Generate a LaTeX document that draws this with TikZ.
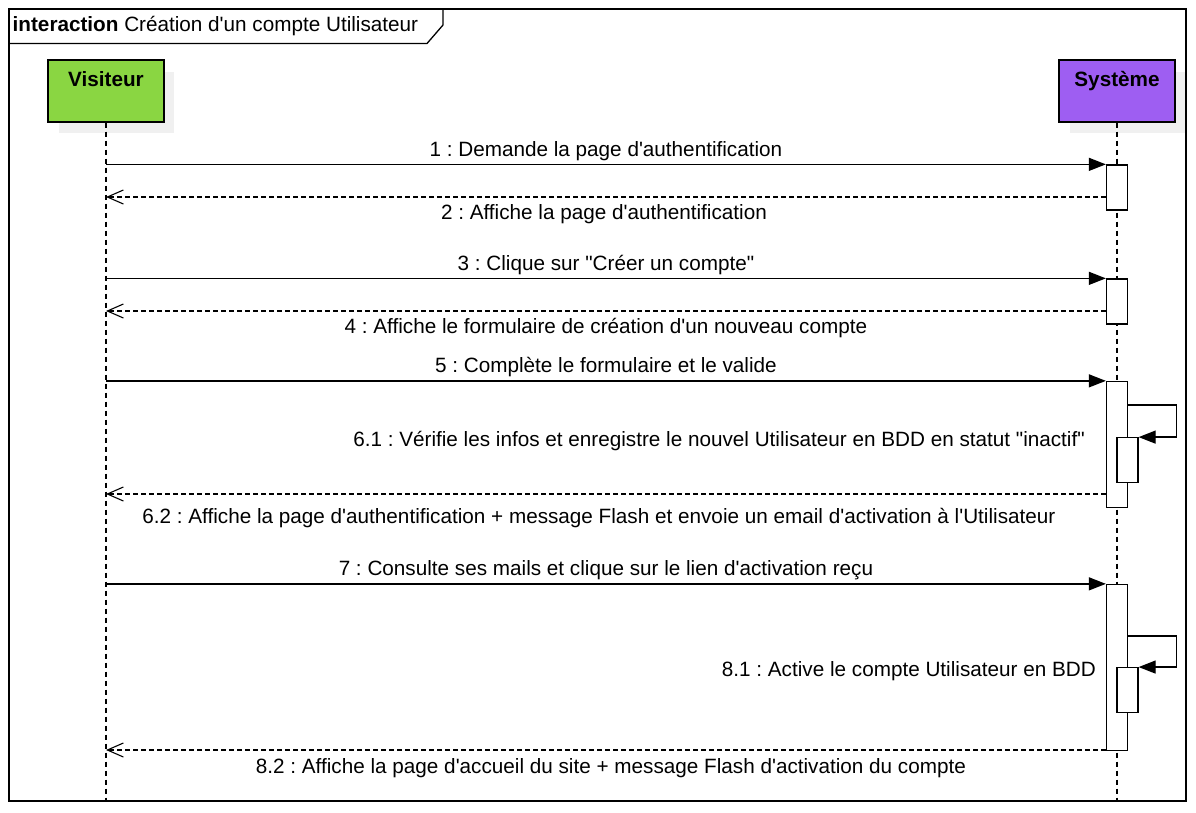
\documentclass[tikz,border=0pt]{standalone}
\usepackage{fontspec}
\setmainfont{Liberation Sans}[Ligatures=TeXOff]
\frenchspacing
\usetikzlibrary{positioning, calc, arrows.meta}
\definecolor{visgreen}{RGB}{138,214,66}
\definecolor{syspurple}{RGB}{158,94,242}
\definecolor{shadowgray}{RGB}{240,240,240}
\tikzset{
	txt/.style={font=\fontsize{20.7}{25}\selectfont, inner sep=0pt},
	head/.style={draw, line width=1.3pt, minimum width=116pt, minimum height=62pt},
	headlbl/.style={txt, font=\fontsize{20.7}{25}\selectfont\bfseries, anchor=base},
	life/.style={line width=1.1pt, dash pattern=on 5pt off 4pt},
	act/.style={draw, fill=white, line width=1.3pt, minimum width=21pt, inner sep=0pt},
	call/.style={line width=1.3pt, -{Triangle[length=17pt, width=13pt]}},
	reply/.style={line width=1.1pt, dash pattern=on 4.5pt off 3.5pt, -{Straight Barb[length=16pt, width=14pt, line width=1.1pt]}},
	msgabove/.style={txt, anchor=base, yshift=8pt},
	msgbelow/.style={txt, anchor=base, yshift=-22pt},
}

\begin{document}
\begin{tikzpicture}[x=1pt, y=-1pt]
		\useasboundingbox (0,0) rectangle (1196,812);
		% Frame and its title
		\draw[line width=1.3pt] (9,9) rectangle (1186,801);
		\draw[line width=1.3pt] (9,9) -- (443,9) -- (443,25) -- (427,43.5) -- (9,43.5);
		\node[txt, anchor=base west] (title) at (12.5,31.5) {\textbf{interaction} Création d'un compte Utilisateur};

		% Lifeline heads
		\fill[shadowgray] (59,72) rectangle (174,133);
		\fill[shadowgray] (1070,72) rectangle (1185,133);
		\node[head, fill=visgreen] (vis) at (106,91) {};
		\node[headlbl] (vislbl) at ([yshift=-27pt]vis.north) {Visiteur};
		\node[head, fill=syspurple] (sys) at (1117,91) {};
		\node[headlbl] (syslbl) at ([yshift=-27pt]sys.north) {Système};

		% Lifelines
		\draw[life] (vis.south) -- (vis |- 0,800);
		\draw[life] (sys.south) -- (sys |- 0,800);

		% Activations
		\node[act, minimum height=45pt] (a1) at (1117,187.5) {};
		\node[act, minimum height=45pt] (a2) at (1117,301.5) {};
		\node[act, minimum height=126pt] (a3) at (1117,444.5) {};
		\node[act, minimum height=44.5pt] (a3b) at (1127.5,460) {};
		\node[act, minimum height=166pt] (a4) at (1117,667.5) {};
		\node[act, minimum height=45pt] (a4b) at (1127.5,690.2) {};

		% Messages
		\draw[call] (vis |- a1.north) -- (a1.north west) node[midway, msgabove] {1 : Demande la page d'authentification};
		\draw[reply] (a1.west |- 0,197) -- (vis |- 0,197) node[midway, msgbelow, xshift=-2pt] {2 : Affiche la page d'authentification};

		\draw[call] (vis |- a2.north) -- (a2.north west) node[midway, msgabove] {3 : Clique sur "Créer un compte"};
		\draw[reply] (a2.west |- 0,311) -- (vis |- 0,311) node[midway, msgbelow] {4 : Affiche le formulaire de création d'un nouveau compte};

		\draw[call] (vis |- a3.north) -- (a3.north west) node[midway, msgabove] {5 : Complète le formulaire et le valide};
		\draw[call] (a3.east |- 0,405) -- ++(48,0) |- (a3b.north east);
		\node[txt, anchor=base east] (m61) at (1085,446) {6.1 : Vérifie les infos et enregistre le nouvel Utilisateur en BDD en statut "inactif"};
		\draw[reply] (a3.west |- 0,494) -- (vis |- 0,494) node[midway, msgbelow, yshift=-7pt, xshift=-7pt] {6.2 : Affiche la page d'authentification + message Flash et envoie un email d'activation à l'Utilisateur};

		\draw[call] (vis |- a4.north) -- (a4.north west) node[midway, msgabove] {7 : Consulte ses mails et clique sur le lien d'activation reçu};
		\draw[call] (a4.east |- 0,636) -- ++(48,0) |- (a4b.north east);
		\node[txt, anchor=base east] (m81) at (1096,676) {8.1 : Active le compte Utilisateur en BDD};
		\draw[reply] (a4.west |- 0,750) -- (vis |- 0,750) node[midway, msgbelow, yshift=-1pt, xshift=5pt] {8.2 : Affiche la page d'accueil du site + message Flash d'activation du compte};
	\end{tikzpicture}
\end{document}
